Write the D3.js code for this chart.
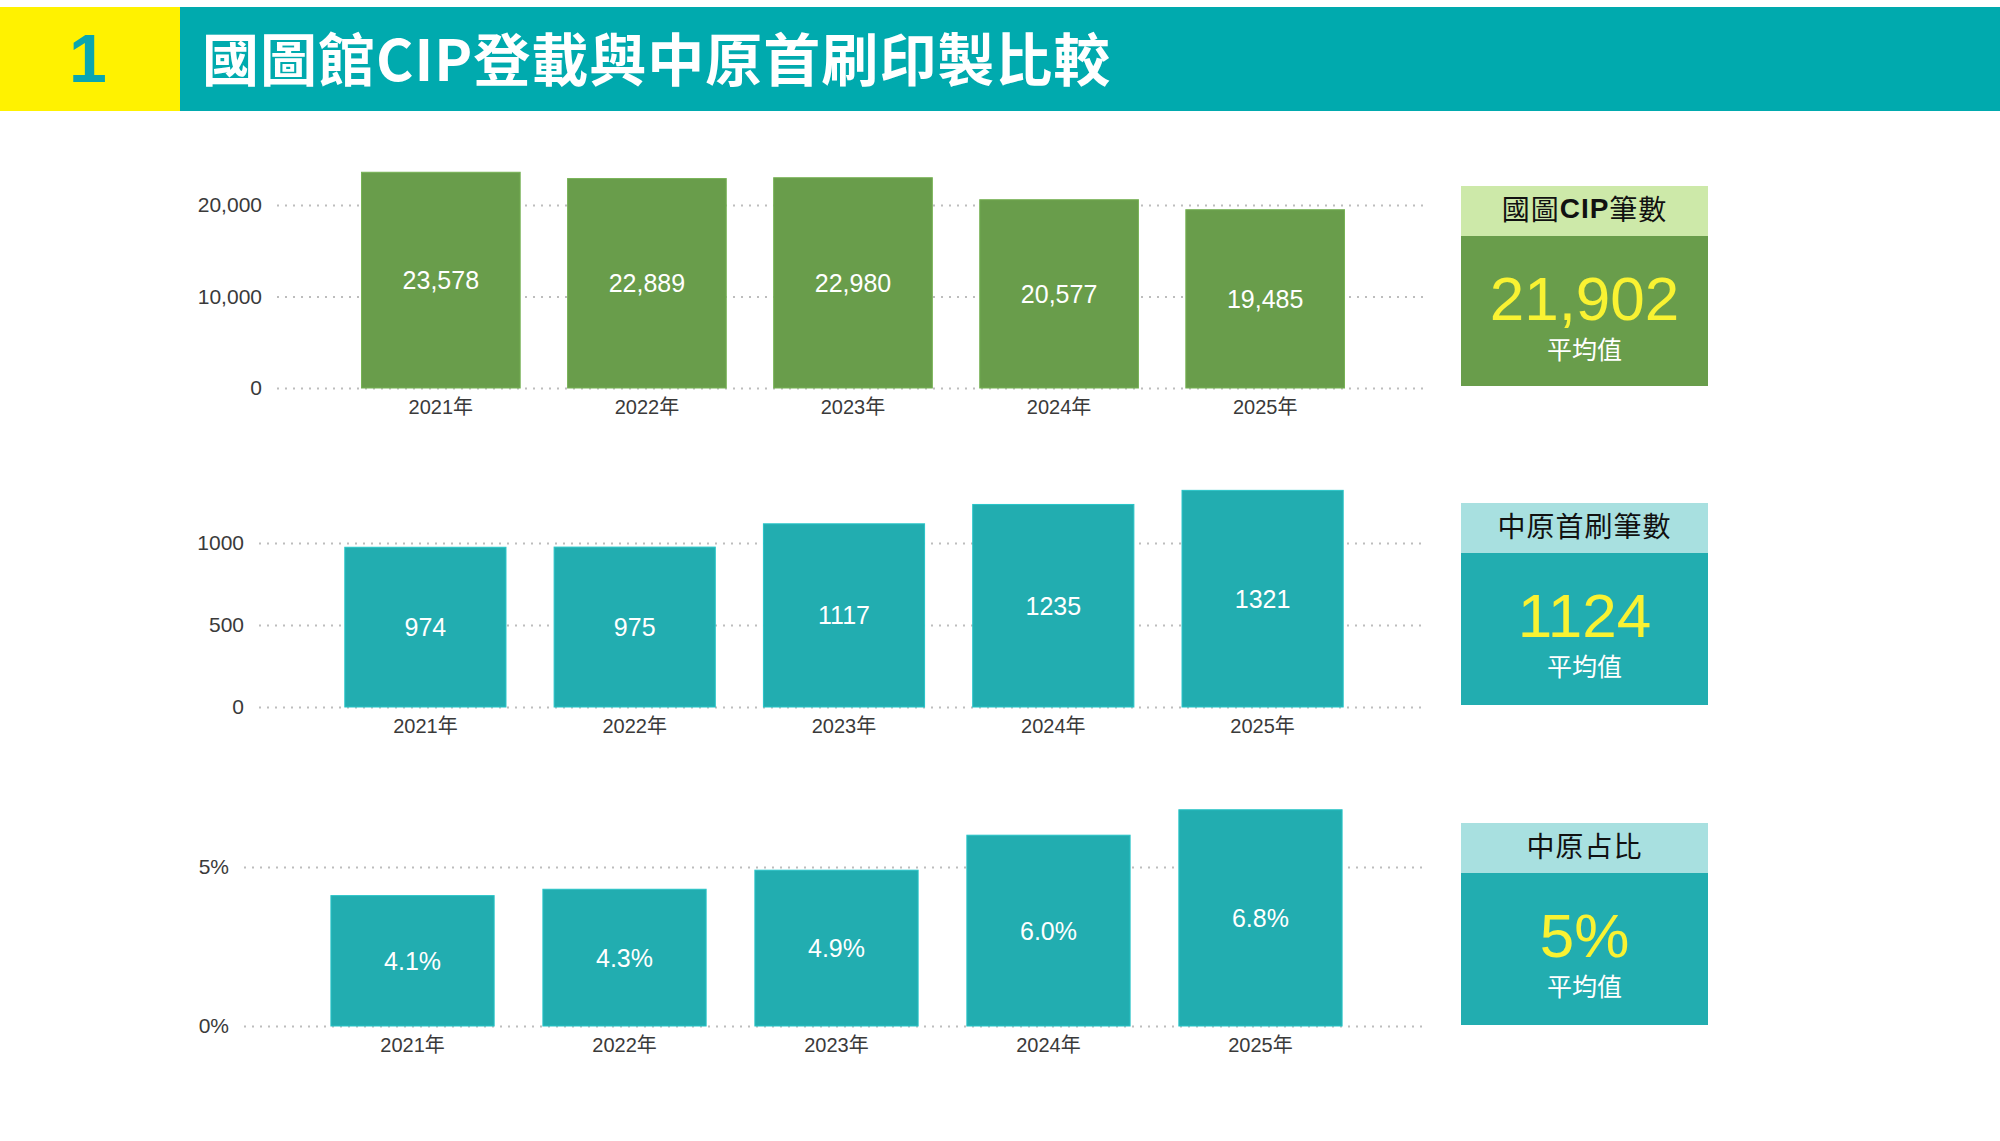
<!DOCTYPE html>
<html>
<head>
<meta charset="utf-8">
<script src="https://cdn.jsdelivr.net/npm/d3@7"></script>
<style>
body{margin:0;background:#fff;}
svg text{font-family:"Liberation Sans","Noto Sans CJK TC",sans-serif;}
</style>
</head>
<body>
<div id="chart"></div>
<script>
//Data
var years = ["2021年", "2022年", "2023年", "2024年", "2025年"];
var cipCounts = [23578, 22889, 22980, 20577, 19485];
var firstPrintCounts = [974, 975, 1117, 1235, 1321];
var firstPrintShare = [0.041, 0.043, 0.049, 0.060, 0.068];
var cipTicks = [0, 10000, 20000];
var firstPrintTicks = [0, 500, 1000];
var shareTicks = [0, 0.05];
var boxTitles = ["國圖CIP筆數", "中原首刷筆數", "中原占比"];
var boxAverages = [21902, 1124, 0.05];
var avgLabel = "平均值";
var titleNum = "1";
var titleText = "國圖館CIP登載與中原首刷印製比較";

var w = 2000,
	h = 1141,
	gridRight = 1426,
	boxX = 1461,
	boxW = 247;

var svg = d3.select("#chart").append("svg")
	.attr("width", w)
	.attr("height", h);

//Title band
svg.append("rect")
	.attr("x", 0).attr("y", 7)
	.attr("width", w).attr("height", 104)
	.attr("fill", "#00aaae");
svg.append("rect")
	.attr("x", 0).attr("y", 7)
	.attr("width", 180).attr("height", 104)
	.attr("fill", "#fff200");
svg.append("text")
	.attr("x", 88).attr("y", 82)
	.attr("text-anchor", "middle")
	.attr("font-size", "68px")
	.attr("font-weight", "bold")
	.attr("fill", "#0aa6b0")
	.text(titleNum);
svg.append("text")
	.attr("x", 202).attr("y", 81)
	.style("font-family", "'Noto Sans CJK TC', sans-serif")
	.attr("font-size", "57px")
	.attr("font-weight", 700)
	.attr("letter-spacing", "1px")
	.attr("fill", "#fff")
	.text(titleText);

//Panels, one per row
var panels = [
	{values: cipCounts, ticks: cipTicks, left: 277, top: 205, bottom: 388,
	 fmt: d3.format(","), tickFmt: d3.format(","), avgFmt: d3.format(","),
	 color: "#699d4b", head: "#cde9a9", boxTop: 186, boxBottom: 386},
	{values: firstPrintCounts, ticks: firstPrintTicks, left: 259, top: 543, bottom: 707,
	 fmt: d3.format("d"), tickFmt: d3.format("d"), avgFmt: d3.format("d"),
	 color: "#22adb0", head: "#a8e0e0", boxTop: 503, boxBottom: 705},
	{values: firstPrintShare, ticks: shareTicks, left: 244, top: 867, bottom: 1026,
	 fmt: d3.format(".1%"), tickFmt: d3.format(".0%"), avgFmt: d3.format(".0%"),
	 color: "#22adb0", head: "#a8e0e0", boxTop: 823, boxBottom: 1025}
];

panels.forEach(function(p, i){
	var g = svg.append("g");

	var x = d3.scaleBand()
		.domain(years)
		.range([p.left, gridRight + 3])
		.paddingInner(0.23)
		.paddingOuter(0.41);

	var y = d3.scaleLinear()
		.domain([0, d3.max(p.ticks)])
		.range([p.bottom, p.top]);

	//dotted grid + tick labels
	g.append("g")
		.attr("transform", "translate(" + p.left + ",0)")
		.call(d3.axisLeft(y).tickValues(p.ticks).tickFormat(p.tickFmt)
			.tickSize(-(gridRight - p.left)).tickPadding(15))
		.call(function(a){ a.select(".domain").remove(); })
		.call(function(a){
			a.selectAll("line")
				.attr("stroke", "#bdbdbd")
				.attr("stroke-width", 2)
				.attr("stroke-dasharray", "2,6");
			a.selectAll("text")
				.attr("font-size", "21px")
				.attr("fill", "#3a3a3a");
		});

	//bars
	g.selectAll("rect.bar")
		.data(p.values)
		.enter()
		.append("rect")
		.attr("class", "bar")
		.attr("x", function(d, j){ return x(years[j]); })
		.attr("y", function(d){ return y(d); })
		.attr("width", x.bandwidth())
		.attr("height", function(d){ return y(0) - y(d); })
		.attr("fill", p.color)
		.attr("stroke", d3.color(p.color).brighter(0.35))
		.attr("stroke-width", 1);

	//values in the middle of bars
	g.selectAll("text.val")
		.data(p.values)
		.enter()
		.append("text")
		.attr("class", "val")
		.attr("x", function(d, j){ return x(years[j]) + x.bandwidth() / 2; })
		.attr("y", function(d){ return (y(d) + y(0)) / 2; })
		.attr("text-anchor", "middle")
		.attr("dominant-baseline", "central")
		.attr("font-size", "25px")
		.attr("fill", "#fff")
		.text(function(d){ return p.fmt(d); });

	//year labels
	g.append("g")
		.attr("transform", "translate(0," + p.bottom + ")")
		.call(d3.axisBottom(x).tickSize(0).tickPadding(12))
		.call(function(a){ a.select(".domain").remove(); })
		.call(function(a){
			a.selectAll("text")
				.attr("font-size", "20px")
				.attr("fill", "#3a3a3a");
		});

	//average box
	var b = svg.append("g");
	b.append("rect")
		.attr("x", boxX).attr("y", p.boxTop)
		.attr("width", boxW).attr("height", 50)
		.attr("fill", p.head);
	b.append("rect")
		.attr("x", boxX).attr("y", p.boxTop + 50)
		.attr("width", boxW).attr("height", p.boxBottom - p.boxTop - 50)
		.attr("fill", p.color);

	var ht = b.append("text")
		.attr("x", boxX + boxW / 2)
		.attr("y", p.boxTop + 22)
		.attr("text-anchor", "middle")
		.attr("dominant-baseline", "central")
		.attr("font-size", "28px")
		.attr("fill", "#111");
	boxTitles[i].split(/([A-Za-z]+)/).forEach(function(part){
		if (!part) return;
		var latin = /[A-Za-z]/.test(part);
		ht.append("tspan")
			.style("font-family", latin ? "'Liberation Sans', sans-serif" : "'Noto Sans CJK TC', sans-serif")
			.attr("font-weight", latin ? 900 : 400)
			.attr("letter-spacing", "1px")
			.text(part);
	});

	b.append("text")
		.attr("x", boxX + boxW / 2)
		.attr("y", p.boxTop + 50 + 84)
		.attr("text-anchor", "middle")
		.attr("font-size", "62px")
		.attr("fill", "#f9f232")
		.text(p.avgFmt(boxAverages[i]));

	b.append("text")
		.attr("x", boxX + boxW / 2)
		.attr("y", p.boxTop + 50 + 123)
		.attr("text-anchor", "middle")
		.style("font-family", "'Noto Sans CJK TC', sans-serif")
		.attr("font-size", "25px")
		.attr("fill", "#fff")
		.text(avgLabel);
});
</script>
</body>
</html>
